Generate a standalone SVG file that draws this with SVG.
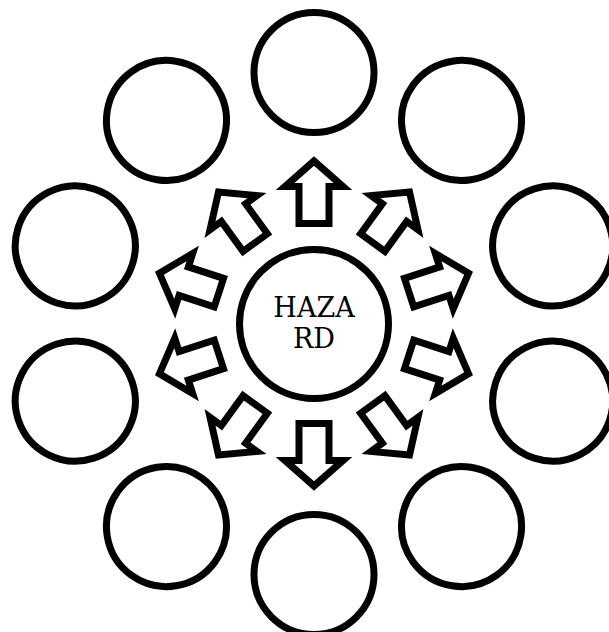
<svg xmlns="http://www.w3.org/2000/svg" width="609" height="632" viewBox="0 0 609 632">
<style>
.c{fill:#fff;stroke:#000;stroke-width:7}
.a{fill:#fff;stroke:#000;stroke-width:7;stroke-linejoin:miter;stroke-miterlimit:10}
.t{font-family:"DejaVu Serif",serif;font-size:27px;fill:#000;text-anchor:middle}
</style>
<defs>
<polygon id="arr" points="-15,-100 -15,-137 -29,-137 0,-162.5 29,-137 15,-137 15,-100"/>
</defs>
<rect width="609" height="632" fill="#fff"/>
<g id="outer-nodes" transform="translate(314,323.5)">
<g id="n0"><circle class="c" cx="0" cy="-251" r="60"/></g>
<g id="n1" transform="rotate(36)"><circle class="c" cx="0" cy="-251" r="60"/></g>
<g id="n2" transform="rotate(72)"><circle class="c" cx="0" cy="-251" r="60"/></g>
<g id="n3" transform="rotate(108)"><circle class="c" cx="0" cy="-251" r="60"/></g>
<g id="n4" transform="rotate(144)"><circle class="c" cx="0" cy="-251" r="60"/></g>
<g id="n5" transform="rotate(180)"><circle class="c" cx="0" cy="-251" r="60"/></g>
<g id="n6" transform="rotate(216)"><circle class="c" cx="0" cy="-251" r="60"/></g>
<g id="n7" transform="rotate(252)"><circle class="c" cx="0" cy="-251" r="60"/></g>
<g id="n8" transform="rotate(288)"><circle class="c" cx="0" cy="-251" r="60"/></g>
<g id="n9" transform="rotate(324)"><circle class="c" cx="0" cy="-251" r="60"/></g>
</g>
<g id="connectors" transform="translate(314,323.5)">
<use href="#arr" class="a"/>
<use href="#arr" class="a" transform="rotate(36)"/>
<use href="#arr" class="a" transform="rotate(72)"/>
<use href="#arr" class="a" transform="rotate(108)"/>
<use href="#arr" class="a" transform="rotate(144)"/>
<use href="#arr" class="a" transform="rotate(180)"/>
<use href="#arr" class="a" transform="rotate(216)"/>
<use href="#arr" class="a" transform="rotate(252)"/>
<use href="#arr" class="a" transform="rotate(288)"/>
<use href="#arr" class="a" transform="rotate(324)"/>
</g>
<g id="hazard">
<circle class="c" cx="314" cy="324" r="74.5"/>
<text class="t" x="314" y="317">HAZA</text>
<text class="t" x="314" y="348">RD</text>
</g>
</svg>
